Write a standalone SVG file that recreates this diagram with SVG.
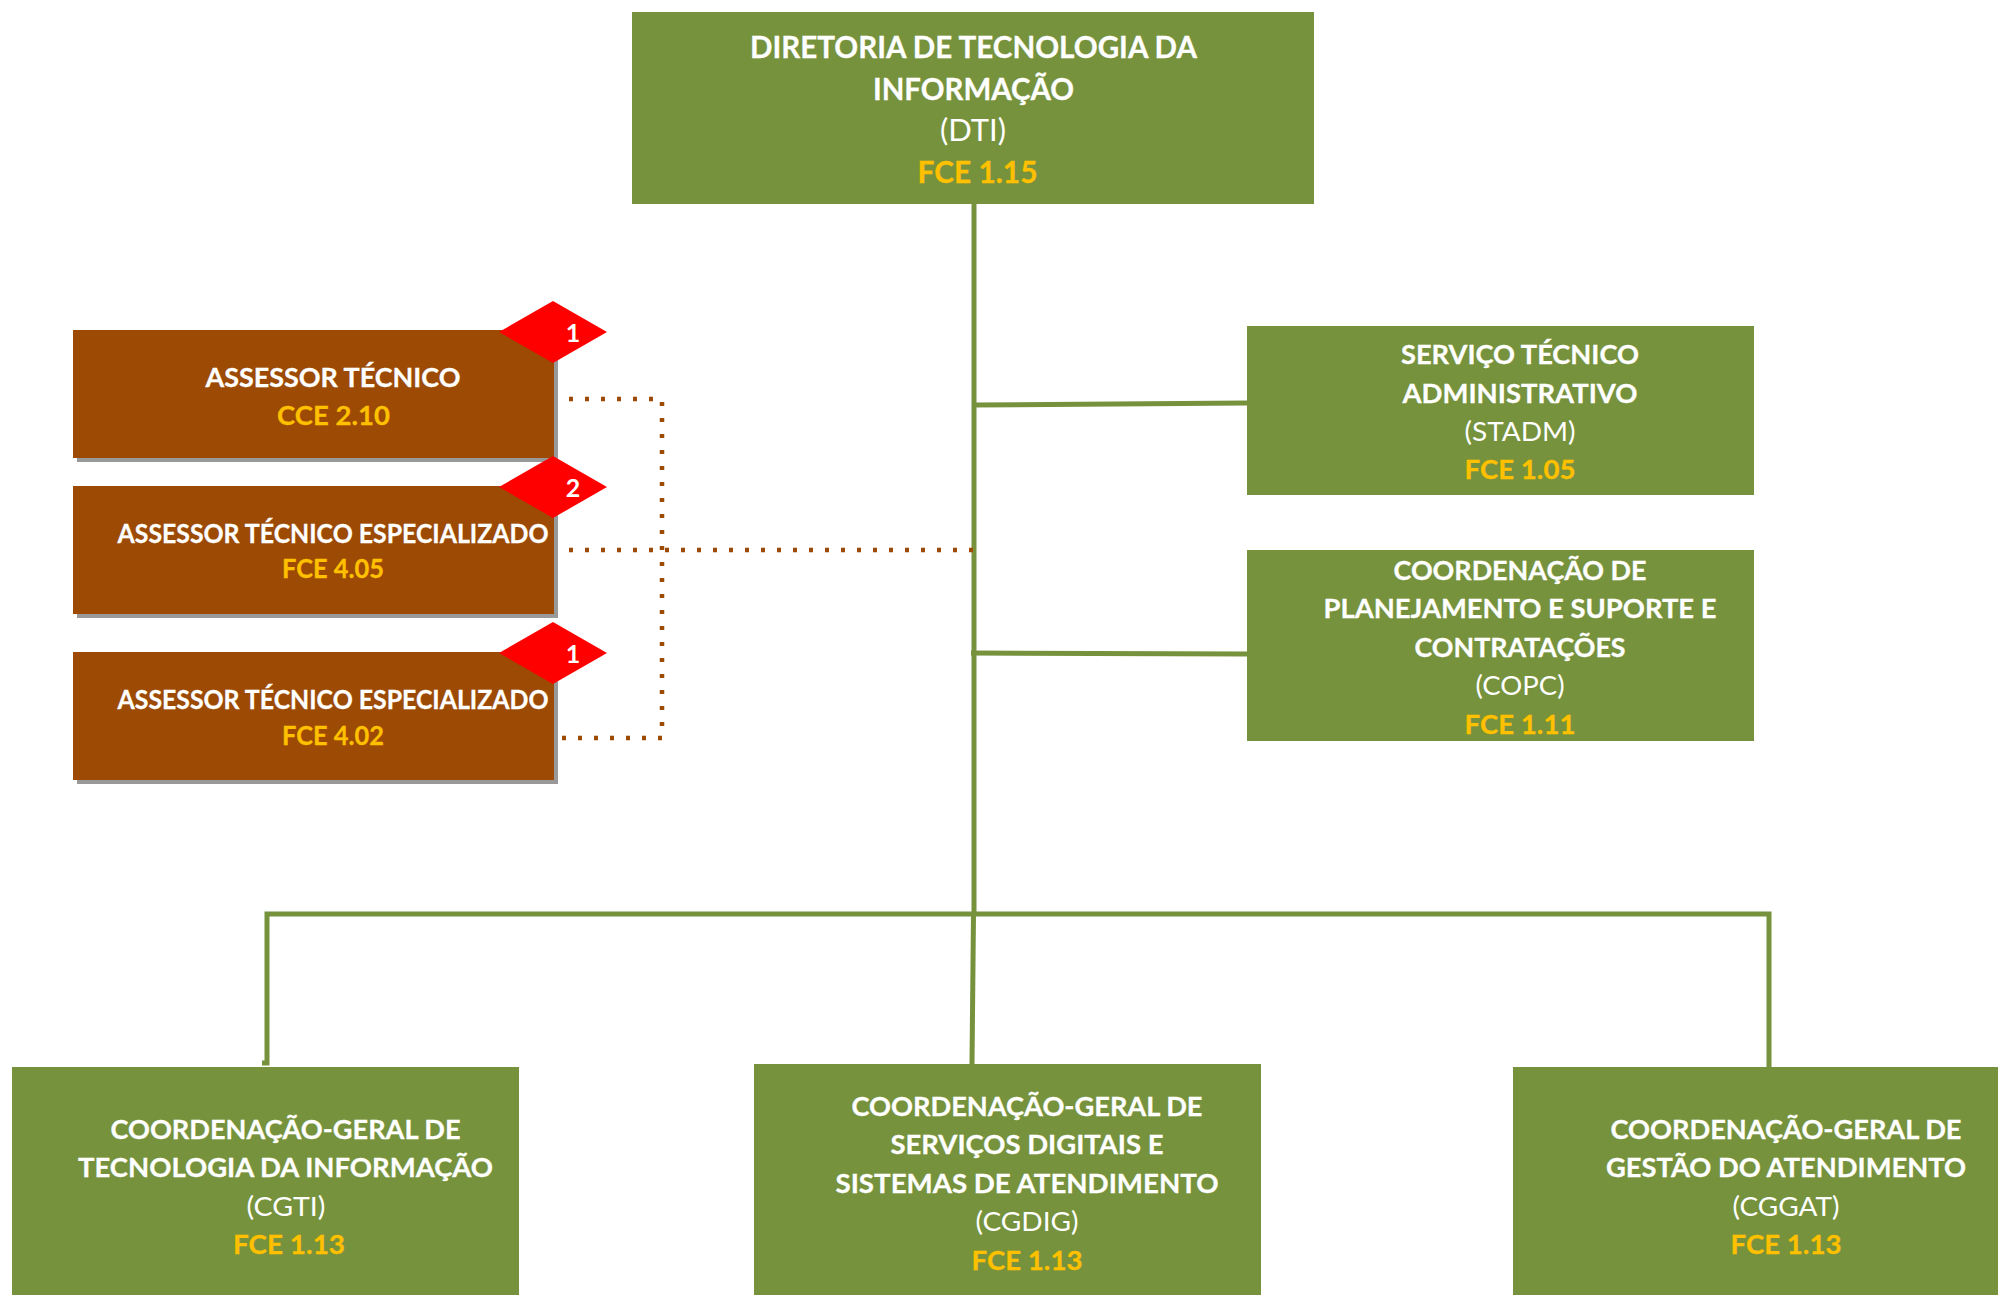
<svg xmlns="http://www.w3.org/2000/svg" width="1998" height="1295" viewBox="0 0 1998 1295">
<style>
text{font-family:Lato,"Liberation Sans",sans-serif;text-anchor:middle;fill:#fff}
.b{font-weight:700;stroke:#fff;stroke-width:.3px}
.y{font-weight:700;fill:#FFC000;stroke:#FFC000;stroke-width:.3px}
.r{font-weight:400}
.g{fill:#76923C}
.br{fill:#9C4A04}
.sh{fill:#999}
.d{fill:#F00}
.s26{font-size:27.5px}
.s30{font-size:31px}
.s25{font-size:26px}
.n{font-size:25px;font-weight:700}
.l{fill:none;stroke:#76923C;stroke-width:5}
.o{fill:none;stroke:#9C4A04;stroke-width:4.500;stroke-dasharray:4 12}
</style>
<rect width="1998" height="1295" fill="#fff"/>
<g id="connectors">
<path class="l" d="M974 204V914"/>
<path class="l" d="M974 405L1247 403"/>
<path class="l" d="M971 653L1247 654"/>
<path class="l" d="M262 1063H267V914H1769V1067"/>
<path class="l" d="M973.500 914L972 1064"/>
<path class="o" d="M553 399H662V738H553"/>
<path class="o" d="M553 550H973"/>
</g>
<g id="dti">
<rect class="g" x="632" y="12" width="682" height="192"/>
<text class="b s30" x="973.500" y="58" textLength="447" lengthAdjust="spacingAndGlyphs">DIRETORIA DE TECNOLOGIA DA</text>
<text class="b s30" x="973.500" y="100" textLength="201" lengthAdjust="spacingAndGlyphs">INFORMAÇÃO</text>
<text class="r s30" x="973" y="141" textLength="66" lengthAdjust="spacingAndGlyphs">(DTI)</text>
<text class="y s30" x="977.500" y="183" textLength="120" lengthAdjust="spacingAndGlyphs">FCE 1.15</text>
</g>
<g id="assessor-tecnico">
<rect class="sh" x="77" y="334" width="481" height="128"/>
<rect class="br" x="73" y="330" width="481" height="128"/>
<path class="d" d="M553 301L607 332L553 363L499 332Z"/>
<text class="n" x="573" y="342">1</text>
<text class="b s26" x="333" y="387" textLength="255" lengthAdjust="spacingAndGlyphs">ASSESSOR TÉCNICO</text>
<text class="y s26" x="333.500" y="425" textLength="113" lengthAdjust="spacingAndGlyphs">CCE 2.10</text>
</g>
<g id="assessor-especializado-405">
<rect class="sh" x="77" y="490" width="481" height="128"/>
<rect class="br" x="73" y="486" width="481" height="128"/>
<path class="d" d="M553 456L607 487L553 518L499 487Z"/>
<text class="n" x="573" y="497">2</text>
<text class="b s25" x="333" y="543" textLength="431" lengthAdjust="spacingAndGlyphs">ASSESSOR TÉCNICO ESPECIALIZADO</text>
<text class="y s25" x="333" y="578" textLength="102" lengthAdjust="spacingAndGlyphs">FCE 4.05</text>
</g>
<g id="assessor-especializado-402">
<rect class="sh" x="77" y="656" width="481" height="128"/>
<rect class="br" x="73" y="652" width="481" height="128"/>
<path class="d" d="M553 622L607 653L553 684L499 653Z"/>
<text class="n" x="573" y="663">1</text>
<text class="b s25" x="333" y="709" textLength="431" lengthAdjust="spacingAndGlyphs">ASSESSOR TÉCNICO ESPECIALIZADO</text>
<text class="y s25" x="333" y="745" textLength="102" lengthAdjust="spacingAndGlyphs">FCE 4.02</text>
</g>
<g id="stadm">
<rect class="g" x="1247" y="326" width="507" height="169"/>
<text class="b s26" x="1520" y="364" textLength="238" lengthAdjust="spacingAndGlyphs">SERVIÇO TÉCNICO</text>
<text class="b s26" x="1520" y="403" textLength="235" lengthAdjust="spacingAndGlyphs">ADMINISTRATIVO</text>
<text class="r s26" x="1520" y="441" textLength="111" lengthAdjust="spacingAndGlyphs">(STADM)</text>
<text class="y s26" x="1520" y="479" textLength="111" lengthAdjust="spacingAndGlyphs">FCE 1.05</text>
</g>
<g id="copc">
<rect class="g" x="1247" y="550" width="507" height="191"/>
<text class="b s26" x="1520" y="580" textLength="253" lengthAdjust="spacingAndGlyphs">COORDENAÇÃO DE</text>
<text class="b s26" x="1520" y="618" textLength="393" lengthAdjust="spacingAndGlyphs">PLANEJAMENTO E SUPORTE E</text>
<text class="b s26" x="1520" y="657" textLength="211" lengthAdjust="spacingAndGlyphs">CONTRATAÇÕES</text>
<text class="r s26" x="1520" y="695" textLength="89" lengthAdjust="spacingAndGlyphs">(COPC)</text>
<text class="y s26" x="1520" y="734" textLength="111" lengthAdjust="spacingAndGlyphs">FCE 1.11</text>
</g>
<g id="cgti">
<rect class="g" x="12" y="1067" width="507" height="228"/>
<text class="b s26" x="285.500" y="1139" textLength="350" lengthAdjust="spacingAndGlyphs">COORDENAÇÃO-GERAL DE</text>
<text class="b s26" x="285.500" y="1177" textLength="415" lengthAdjust="spacingAndGlyphs">TECNOLOGIA DA INFORMAÇÃO</text>
<text class="r s26" x="286" y="1216" textLength="79" lengthAdjust="spacingAndGlyphs">(CGTI)</text>
<text class="y s26" x="289" y="1254" textLength="112" lengthAdjust="spacingAndGlyphs">FCE 1.13</text>
</g>
<g id="cgdig">
<rect class="g" x="754" y="1064" width="507" height="231"/>
<text class="b s26" x="1027" y="1116" textLength="351" lengthAdjust="spacingAndGlyphs">COORDENAÇÃO-GERAL DE</text>
<text class="b s26" x="1027" y="1154" textLength="273" lengthAdjust="spacingAndGlyphs">SERVIÇOS DIGITAIS E</text>
<text class="b s26" x="1027" y="1193" textLength="383" lengthAdjust="spacingAndGlyphs">SISTEMAS DE ATENDIMENTO</text>
<text class="r s26" x="1027" y="1231" textLength="103" lengthAdjust="spacingAndGlyphs">(CGDIG)</text>
<text class="y s26" x="1027" y="1270" textLength="111" lengthAdjust="spacingAndGlyphs">FCE 1.13</text>
</g>
<g id="cggat">
<rect class="g" x="1513" y="1067" width="485" height="228"/>
<text class="b s26" x="1786" y="1139" textLength="351" lengthAdjust="spacingAndGlyphs">COORDENAÇÃO-GERAL DE</text>
<text class="b s26" x="1786" y="1177" textLength="360" lengthAdjust="spacingAndGlyphs">GESTÃO DO ATENDIMENTO</text>
<text class="r s26" x="1786" y="1216" textLength="107" lengthAdjust="spacingAndGlyphs">(CGGAT)</text>
<text class="y s26" x="1786" y="1254" textLength="111" lengthAdjust="spacingAndGlyphs">FCE 1.13</text>
</g>
</svg>
